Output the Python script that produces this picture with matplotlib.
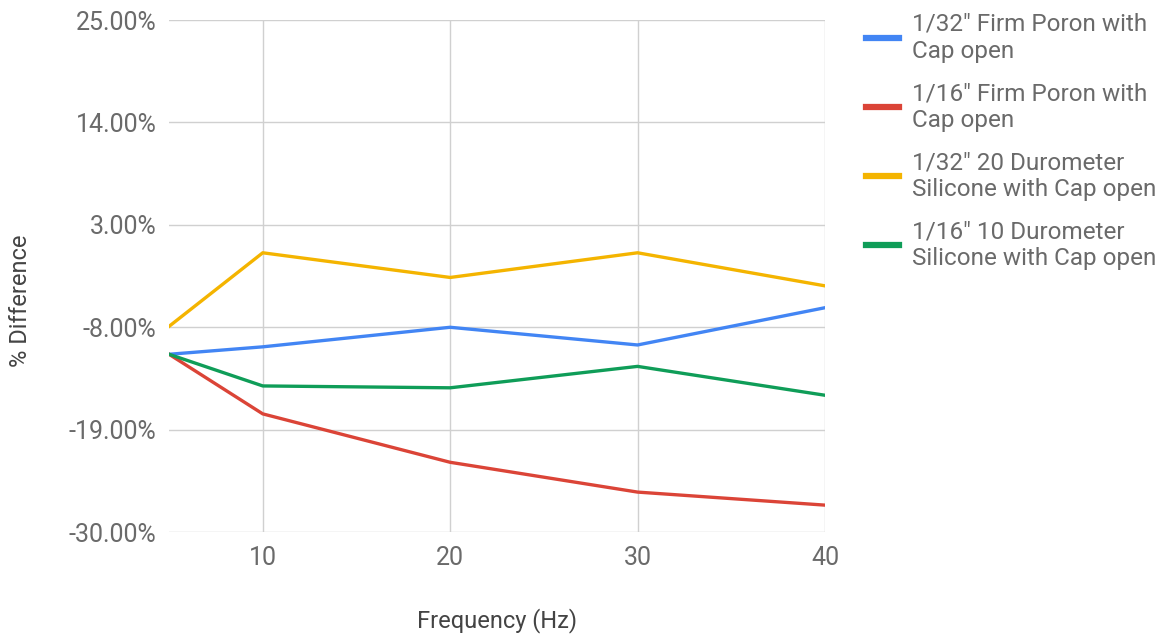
import matplotlib.pyplot as plt
from matplotlib.ticker import FuncFormatter

plt.rcParams['font.family'] = ['Roboto', 'DejaVu Sans']

freq = [5, 10, 20, 30, 40]
poron_32 = [-10.9, -10.1, -8.0, -9.9, -5.9]
poron_16 = [-10.9, -17.3, -22.5, -25.7, -27.1]
silicone_32 = [-7.9, 0.0, -2.65, 0.0, -3.55]
silicone_16 = [-10.9, -14.3, -14.5, -12.2, -15.3]

labels = ['1/32" Firm Poron with\nCap open',
          '1/16" Firm Poron with\nCap open',
          '1/32" 20 Durometer\nSilicone with Cap open',
          '1/16" 10 Durometer\nSilicone with Cap open']
colors = ['#4285f4', '#db4437', '#f4b400', '#0f9d58']
yticks = [-30, -19, -8, 3, 14, 25]
xticks = [10, 20, 30, 40]

fig = plt.figure(figsize=(11.66, 6.35), dpi=100)
ax = fig.add_axes([0.145, 0.162, 0.5625, 0.8065])

for series, c, lab in zip([poron_32, poron_16, silicone_32, silicone_16], colors, labels):
    ax.plot(freq, series, color=c, linewidth=2.4, label=lab, solid_joinstyle='round')

ax.set_xlim(5, 40)
ax.set_ylim(-30, 25)
ax.set_yticks(yticks)
ax.set_xticks(xticks)
ax.yaxis.set_major_formatter(FuncFormatter(lambda v, p: f'{v:.2f}%'))
ax.grid(True, color='#d0d0d0', linewidth=1.0)
ax.set_axisbelow(True)
for s in ax.spines.values():
    s.set_visible(False)
ax.tick_params(length=0, colors='#6a6a6a', labelsize=18, pad=9)
ax.tick_params(axis='x', pad=10)

# axis titles placed in figure coords
fig.text(0.4265, 0.023, 'Frequency (Hz)', fontsize=17, color='#444444', ha='center', va='center')
fig.text(0.018, 0.527, '% Difference', fontsize=17, color='#444444', ha='center', va='center',
         rotation=90)

leg = fig.legend(loc='upper left', bbox_to_anchor=(0.724, 1.014), frameon=False,
                 fontsize=17.5, handlelength=1.35, handletextpad=0.55, labelspacing=0.8,
                 labelcolor='#6a6a6a')
for h in leg.get_lines():
    h.set_linewidth(4.5)

fig.savefig('out.png', dpi=100)
